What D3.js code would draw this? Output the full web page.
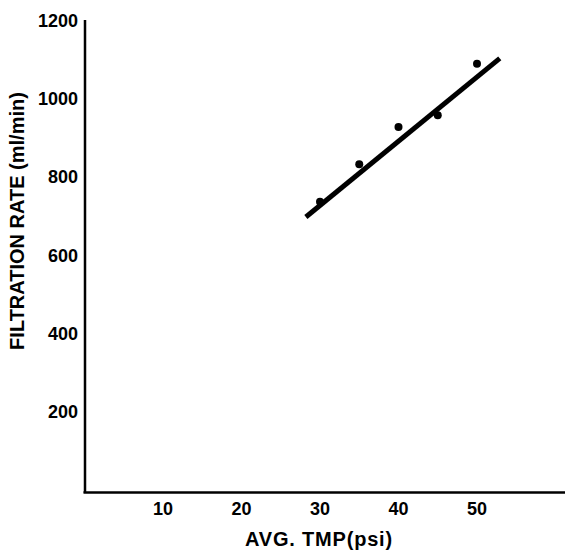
<!DOCTYPE html>
<html>
<head>
<meta charset="utf-8">
<script src="https://cdn.jsdelivr.net/npm/d3@7.9.0/dist/d3.min.js"></script>
<style>
  body { margin: 0; background: #fff; }
  svg text { font-family: "Liberation Sans", Arial, sans-serif; font-weight: bold; fill: #000; }
</style>
</head>
<body>
<svg id="chart" width="565" height="551"></svg>
<script>
// measured points
const tmp = [30, 35, 40, 45, 50];
const rate = [736, 832, 927, 957, 1088];
// fitted line end points
const fitTmp = [28.2, 52.9];
const fitRate = [697, 1102];

const xTicks = [10, 20, 30, 40, 50];
const yTicks = [200, 400, 600, 800, 1000, 1200];

const svg = d3.select('#chart');

const x = d3.scaleLinear().domain([0, 60]).range([84.5, 555.5]);
const y = d3.scaleLinear().domain([0, 1200]).range([490, 20]);

// axes lines (no tick marks in the original)
svg.append('line')
  .attr('x1', 85).attr('x2', 85)
  .attr('y1', 20).attr('y2', 493)
  .attr('stroke', '#000').attr('stroke-width', 2.5);
svg.append('line')
  .attr('x1', 83.5).attr('x2', 565)
  .attr('y1', 492.5).attr('y2', 492.5)
  .attr('stroke', '#000').attr('stroke-width', 2.5);

// tick labels
svg.selectAll('.xlab')
  .data(xTicks)
  .join('text')
  .attr('class', 'xlab')
  .attr('x', d => x(d))
  .attr('y', 515)
  .attr('text-anchor', 'middle')
  .attr('font-size', 18)
  .text(d => d);

svg.selectAll('.ylab')
  .data(yTicks)
  .join('text')
  .attr('class', 'ylab')
  .attr('x', 78)
  .attr('y', d => y(d) + 6.5)
  .attr('text-anchor', 'end')
  .attr('font-size', 18)
  .text(d => d);

// axis titles
svg.append('text')
  .attr('x', 319)
  .attr('y', 546)
  .attr('text-anchor', 'middle')
  .attr('font-size', 20)
  .attr('letter-spacing', 0.8)
  .text('AVG. TMP(psi)');

svg.append('text')
  .attr('transform', 'translate(24,221) rotate(-90)')
  .attr('text-anchor', 'middle')
  .attr('font-size', 20)
  .text('FILTRATION RATE (ml/min)');

// fitted line
svg.append('line')
  .attr('x1', x(fitTmp[0])).attr('y1', y(fitRate[0]))
  .attr('x2', x(fitTmp[1])).attr('y2', y(fitRate[1]))
  .attr('stroke', '#000').attr('stroke-width', 5);

// data points
svg.selectAll('circle')
  .data(tmp)
  .join('circle')
  .attr('cx', d => x(d))
  .attr('cy', (d, i) => y(rate[i]))
  .attr('r', 4)
  .attr('fill', '#000');
</script>
</body>
</html>
